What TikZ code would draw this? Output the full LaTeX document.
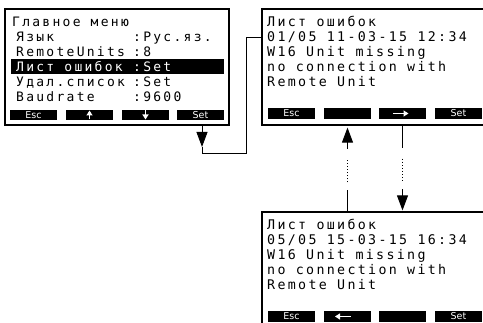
\documentclass[tikz,border=0pt]{standalone}
\usepackage{fontspec}
\setmainfont{DejaVu Sans}
\newfontfamily\lcdfont{DejaVu Sans Mono}[LetterSpace=17.5]
\usetikzlibrary{arrows.meta,calc}

\tikzset{
  screen/.style={draw, line width=1.2pt, minimum width=224pt, minimum height=116pt, inner sep=0pt},
  errscreen/.style={screen, minimum width=260pt},
  lcd/.style={anchor=base west, inner sep=0pt, font=\lcdfont\fontsize{13.3}{15}\selectfont},
  menulcd/.style={lcd, font=\lcdfont\fontsize{13}{15}\selectfont},
  btn/.style={fill=black, text=white, minimum width=47pt, minimum height=10.5pt, inner sep=0pt,
    font=\fontsize{9.5}{10}\selectfont},
  link/.style={line width=0.9pt},
  dots/.style={link, dash pattern=on 0.9pt off 2.2pt},
  tip/.style={-{Triangle[length=15pt,width=11pt]}},
  keyarrow/.style={white, line width=1.5pt, -{Triangle[length=5pt,width=6pt]}}
}

\begin{document}
\begin{tikzpicture}[x=1pt,y=-1pt]
  \useasboundingbox (0,0) rectangle (483,323);
  \clip (0,0) rectangle (483,323);

  % main menu
  \node[screen] (main) at (117,67) {};
  \node[fill=black, minimum width=213pt, minimum height=15pt, inner sep=0pt] (mbar) at (117.5,66.5) {};
  \node[menulcd] (m0) at (12,27) {Главное меню};
  \foreach \y/\n/\l/\v in {42/1/Язык/:Рус.яз., 57/2/RemoteUnits/:8, 87/4/Удал.список/:Set, 102/5/Baudrate/:9600}
    { \node[menulcd] (m\n) at (16,\y) {\l}; \node[menulcd] (v\n) at (133,\y) {\v}; }
  \node[menulcd, text=white] (m3) at (16,72) {Лист ошибок};
  \node[menulcd, text=white] (v3) at (133,72) {:Set};
  \foreach \x/\n/\t in {33.5/1/Esc, 89.5/2/{}, 145.5/3/{}, 200.5/4/Set}
    \node[btn] (mb\n) at (\x,115) {\t};
  \draw[keyarrow] ([yshift=-4.5pt]mb2.center) -- ([yshift=4.5pt]mb2.center);
  \draw[keyarrow] ([yshift=4.5pt]mb3.center) -- ([yshift=-4.5pt]mb3.center);

  % error list, two entries
  \foreach \s/\dy/\stamp in {A/0/{01/05 11-03-15 12:34}, B/203/{05/05 15-03-15 16:34}} {
    \node[errscreen] (err\s) at (392,{67+\dy}) {};
    \node[lcd] (e\s1) at (267,{27+\dy}) {Лист ошибок};
    \node[lcd] (e\s2) at (267,{42+\dy}) {\stamp};
    \node[lcd] (e\s3) at (267,{57+\dy}) {W16 Unit missing};
    \node[lcd] (e\s4) at (267,{72+\dy}) {no connection with};
    \node[lcd] (e\s5) at (267,{87+\dy}) {Remote Unit};
    \foreach \x/\n/\t in {291.5/1/Esc, 347.5/2/{}, 402.5/3/{}, 458.5/4/Set}
      \node[btn] (b\s\n) at (\x,{113.5+\dy}) {\t};
  }
  \draw[keyarrow] ([xshift=-9.5pt]bA3.center) -- ([xshift=6pt]bA3.center);
  \draw[keyarrow] ([xshift=3pt]bB2.center) -- ([xshift=-12.5pt]bB2.center);

  % Set -> error list
  \coordinate (sethook) at (202,147);
  \coordinate (loopturn) at (246,153);
  \draw[link, tip] (main.south -| sethook) -- (sethook);
  \draw[link] (sethook) |- (loopturn) |- (errA.west |- eA2.west);

  % paging between entries
  \draw[link] (errB.north -| bA2) -- ++(0,-21);
  \draw[dots] ($(errB.north -| bA2)+(0,-29)$) -- ++(0,-24);
  \draw[link, tip] ($(errA.south -| bA2)+(0,23)$) -- ($(errA.south -| bA2)+(0,2)$);
  \draw[link] (errA.south -| bA3) -- ++(0,22);
  \draw[dots] ($(errA.south -| bA3)+(0,33)$) -- ++(0,24);
  \draw[link, tip] ($(errB.north -| bA3)+(0,-22)$) -- ($(errB.north -| bA3)+(0,-1)$);
\end{tikzpicture}
\end{document}
